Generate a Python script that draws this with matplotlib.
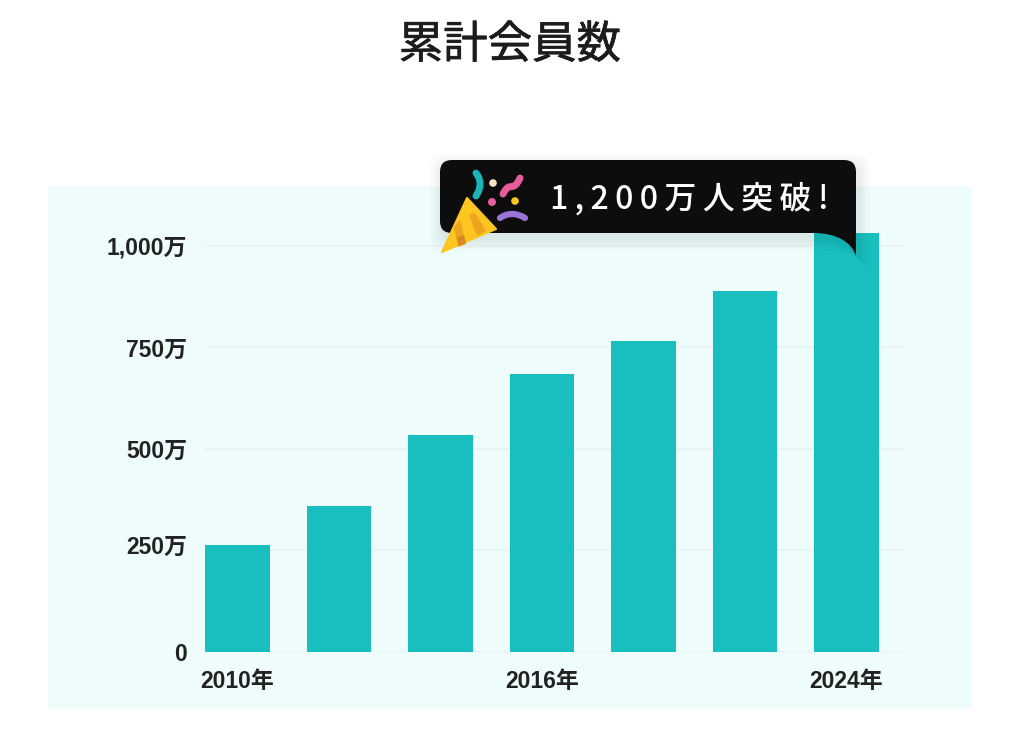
import matplotlib
matplotlib.use('Agg')
import matplotlib.pyplot as plt
import matplotlib.patheffects as pe
from matplotlib.transforms import ScaledTranslation
import numpy as np
from matplotlib.patches import Polygon, PathPatch, Rectangle, Circle
from matplotlib.path import Path

# values in 万人
categories = ['2010年', '', '', '2016年', '', '', '2024年']
members = [263, 360, 534, 685, 766, 889, 1032]
y_ticks = [0, 250, 500, 750, 1000]
y_labels = ['0', '250万', '500万', '750万', '1,000万']
title = '累計会員数'
callout = '1,200万人突破!'

W, H = 1024, 740
BAR = '#19bfbf'
JP = ['Noto Sans CJK JP', 'DejaVu Sans']
LABEL = ['Liberation Sans', 'Noto Sans CJK JP']

plt.rcParams['font.family'] = JP

fig = plt.figure(figsize=(W / 100, H / 100), dpi=100, facecolor='white')
fig.add_artist(Rectangle((48 / W, 1 - 709 / H), 924 / W, 523 / H, transform=fig.transFigure,
                         facecolor='#effcfc', edgecolor='none', zorder=-1))
fig.text(510 / W, 1 - 45 / H, title, ha='center', va='center', fontsize=32,
         color='#1c1c1c', path_effects=[pe.withStroke(linewidth=0.5, foreground='#1c1c1c')])

# chart
ax = fig.add_axes([205 / W, 1 - 652 / H, 701 / W, 419 / H], facecolor='none')
x = np.arange(len(members))
ax.bar(x, members, width=0.64, color=BAR, zorder=3)
ax.set_xlim(-0.32, 6.586)
ax.set_ylim(0, 1032)
ax.set_yticks(y_ticks)
ax.set_yticklabels(y_labels, family=LABEL, fontweight='bold', fontsize=16.5, color='#222222')
ax.set_xticks(x)
ax.set_xticklabels(categories, family=LABEL, fontweight='bold', fontsize=16.5, color='#222222')
ax.tick_params(length=0)
ax.tick_params(axis='y', pad=13)
ax.tick_params(axis='x', pad=13)
ax.grid(axis='y', color='#e8f2f2', linewidth=1.2, zorder=0)
ax.set_axisbelow(True)
for s in ax.spines.values():
    s.set_visible(False)
# the 250 label sits a little above its line in the original
lab = ax.get_yticklabels()[1]
lab.set_transform(lab.get_transform() + ScaledTranslation(0, 4 / 72, fig.dpi_scale_trans))

# overlay in pixel coords for the callout
ov = fig.add_axes([0, 0, 1, 1], facecolor='none')
ov.set_xlim(0, W)
ov.set_ylim(H, 0)
ov.axis('off')


def balloon(dx=0, dy=0, grow=0, **kw):
    l, r, t, b = 440 - grow + dx, 856 + grow + dx, 160 - grow + dy, 233 + grow + dy
    rad = 12
    verts = [(l + rad, t), (r - rad, t), (r, t), (r, t + rad),
             (r, b + 23), (r - 4, b + 10), (r - 18, b), (r - 43, b),
             (l + rad, b), (l, b), (l, b - rad),
             (l, t + rad), (l, t), (l + rad, t), (l + rad, t)]
    codes = [Path.MOVETO, Path.LINETO, Path.CURVE3, Path.CURVE3,
             Path.LINETO, Path.CURVE4, Path.CURVE4, Path.CURVE4,
             Path.LINETO, Path.CURVE3, Path.CURVE3,
             Path.LINETO, Path.CURVE3, Path.CURVE3, Path.CLOSEPOLY]
    ov.add_patch(PathPatch(Path(verts, codes), edgecolor='none', **kw))


for g in [12, 9, 6, 4, 2]:
    balloon(dx=2, dy=6, grow=g, facecolor='black', alpha=0.014)
balloon(facecolor='#0d0d0d')

ov.text(689, 199, '\u2009'.join(callout), ha='center', va='center', fontsize=23,
        color='white', fontweight='medium')

# party popper
ov.add_patch(Polygon([(467, 198), (496, 229), (442, 252)], closed=True, facecolor='#fdc51f',
                     edgecolor='#fdc51f', linewidth=1.5, joinstyle='round'))
ov.add_patch(Polygon([(469, 215), (475, 213), (486, 231), (477, 236)], closed=True,
                     facecolor='#eea41f', edgecolor='none'))
ov.add_patch(Polygon([(454, 227), (460, 220), (466, 244), (458, 247)], closed=True,
                     facecolor='#eea41f', edgecolor='none'))
ov.add_patch(Polygon([(457, 237), (464, 235), (466, 243), (459, 246)], closed=True,
                     facecolor='#d68a1c', edgecolor='none'))


def curve(pts, color, lw):
    xs, ys = zip(*pts)
    t = np.linspace(0, 1, 30)
    c = np.polyfit(np.linspace(0, 1, len(pts)), np.array([xs, ys]).T, len(pts) - 1)
    ov.plot(np.polyval(c[:, 0], t), np.polyval(c[:, 1], t), color=color, lw=lw,
            solid_capstyle='round')


curve([(476, 173), (480, 184), (476, 196)], '#19b5b8', 5)
curve([(503, 194), (509, 187), (514, 186), (520, 178)], '#e85c9c', 5)
curve([(500, 218), (512, 214), (525, 218)], '#9a74d8', 4.5)
for cx, cy, cr, col in [(493, 183, 3.8, '#f4e3c0'), (492, 202, 4, '#e85c9c'), (515, 201, 3.8, '#fdc51f')]:
    ov.add_patch(Circle((cx, cy), cr, facecolor=col, edgecolor='none'))

fig.savefig('out.png', dpi=100)
